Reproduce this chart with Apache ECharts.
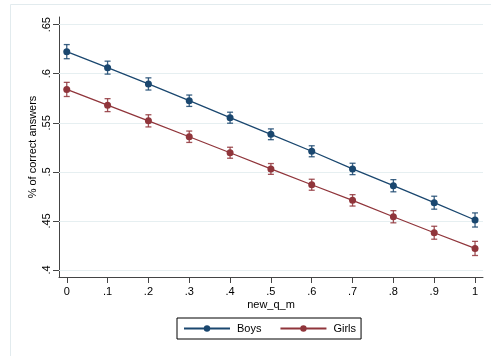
<!DOCTYPE html>
<html>
<head>
<meta charset="utf-8">
<script src="https://cdn.jsdelivr.net/npm/echarts@6/dist/echarts.min.js"></script>
<style>html,body{margin:0;padding:0;background:#fff;}#c{width:491px;height:356px;}</style>
</head>
<body>
<div id="c"></div>
<script>
var xValues = [0, 0.1, 0.2, 0.3, 0.4, 0.5, 0.6, 0.7, 0.8, 0.9, 1];
var boys = [0.6225, 0.6062, 0.5896, 0.5725, 0.5552, 0.5383, 0.5210, 0.5030, 0.4859, 0.4686, 0.4510];
var girls = [0.5840, 0.5680, 0.5520, 0.5358, 0.5195, 0.5030, 0.4869, 0.4710, 0.4543, 0.4380, 0.4220];
var boysErr = [0.0072, 0.0066, 0.0062, 0.0058, 0.0056, 0.0055, 0.0056, 0.0058, 0.0062, 0.0066, 0.0072];
var girlsErr = [0.0072, 0.0066, 0.0062, 0.0058, 0.0056, 0.0055, 0.0056, 0.0058, 0.0062, 0.0066, 0.0072];
var xTicks = [0, 0.1, 0.2, 0.3, 0.4, 0.5, 0.6, 0.7, 0.8, 0.9, 1];
var yTicks = [0.4, 0.45, 0.5, 0.55, 0.6, 0.65];
var seriesNames = ['Boys', 'Girls'];

var colBoys = '#1a476f', colGirls = '#90353b';
var FONT = 'Liberation Sans, Arial, sans-serif';
function fmt(v) {
  var s = (Math.round(v * 100) / 100).toString();
  return s.replace(/^0\./, '.');
}
function pts(arr) { return xValues.map(function (x, i) { return [x, arr[i]]; }); }
function errData(arr, err) { return xValues.map(function (x, i) { return [x, arr[i] - err[i], arr[i] + err[i]]; }); }
function errSeries(arr, err, color) {
  return {
    type: 'custom', data: errData(arr, err), z: 3, silent: true,
    renderItem: function (params, api) {
      var lo = api.coord([api.value(0), api.value(1)]);
      var hi = api.coord([api.value(0), api.value(2)]);
      var w = 3;
      var st = { stroke: color, lineWidth: 1.3, opacity: 0.85 };
      return { type: 'group', children: [
        { type: 'line', shape: { x1: lo[0], y1: lo[1], x2: hi[0], y2: hi[1] }, style: st },
        { type: 'line', shape: { x1: lo[0] - w, y1: lo[1], x2: lo[0] + w, y2: lo[1] }, style: st },
        { type: 'line', shape: { x1: hi[0] - w, y1: hi[1], x2: hi[0] + w, y2: hi[1] }, style: st }
      ]};
    }
  };
}

var chart = echarts.init(document.getElementById('c'), null, { renderer: 'canvas' });
chart.setOption({
  animation: false,
  backgroundColor: '#fff',
  textStyle: { fontFamily: FONT },
  graphic: [{
    type: 'rect', z: -10, silent: true,
    shape: { x: 10.5, y: 4.5, width: 520, height: 400 },
    style: { fill: 'none', stroke: '#e2ebee', lineWidth: 1 }
  }],
  grid: { left: 59, right: 8, top: 17, bottom: 79 },
  legend: {
    data: seriesNames,
    left: 177, top: 318,
    borderColor: '#000', borderWidth: 1, borderRadius: 0,
    padding: [5, 5, 5, 6],
    itemWidth: 46, itemHeight: 8, itemGap: 18,
    textStyle: { fontFamily: FONT, fontSize: 11, color: '#000', padding: [0, 0, 0, 2] }
  },
  xAxis: {
    type: 'value', min: -0.019, max: 1.0195,
    name: 'new_q_m', nameLocation: 'middle', nameGap: 22, nameMoveOverlap: false,
    nameTextStyle: { fontFamily: FONT, fontSize: 11, color: '#000' },
    axisLine: { show: true, onZero: false, lineStyle: { color: '#444', width: 1 } },
    axisTick: { show: true, customValues: xTicks, length: 6, lineStyle: { color: '#444' } },
    axisLabel: { customValues: xTicks, formatter: fmt, fontFamily: FONT, fontSize: 11, color: '#000', margin: 9 },
    splitLine: { show: false }
  },
  yAxis: {
    type: 'value', min: 0.3929, max: 0.6578,
    name: '% of correct answers', nameLocation: 'middle', nameGap: 21, nameMoveOverlap: false,
    nameTextStyle: { fontFamily: FONT, fontSize: 11, color: '#000' },
    axisLine: { show: true, onZero: false, lineStyle: { color: '#444', width: 1 } },
    axisTick: { show: true, customValues: yTicks, length: 6, lineStyle: { color: '#444' } },
    axisLabel: { customValues: yTicks, formatter: fmt, rotate: 90, fontFamily: FONT, fontSize: 11, color: '#000', margin: 7 },
    splitLine: { show: false }
  },
  series: [
    {
      name: seriesNames[0], type: 'line', data: pts(boys), z: 4,
      symbol: 'circle', symbolSize: 7, showSymbol: true,
      itemStyle: { color: colBoys }, lineStyle: { color: colBoys, width: 1.3 },
      markLine: {
        silent: true, symbol: 'none', label: { show: false }, z: 1,
        lineStyle: { color: '#e6eff1', type: 'solid', width: 1 },
        data: yTicks.map(function (v) { return { yAxis: v }; })
      }
    },
    {
      name: seriesNames[1], type: 'line', data: pts(girls), z: 4,
      symbol: 'circle', symbolSize: 7, showSymbol: true,
      itemStyle: { color: colGirls }, lineStyle: { color: colGirls, width: 1.3 }
    },
    errSeries(boys, boysErr, colBoys),
    errSeries(girls, girlsErr, colGirls)
  ]
});
</script>
</body>
</html>
